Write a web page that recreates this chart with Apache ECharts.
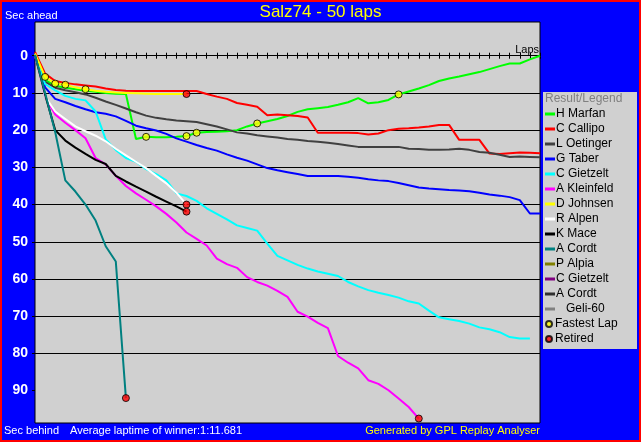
<!DOCTYPE html>
<html><head><meta charset="utf-8">
<script src="https://cdn.jsdelivr.net/npm/echarts@6/dist/echarts.min.js"></script>
<style>html,body{margin:0;padding:0;background:#0000ff;overflow:hidden}#c{width:641px;height:442px}</style>
</head><body><div id="c"></div>
<script>
// ---- data (seconds behind per lap, index = lap number) ----
const hMarfan   = [-0.5, 6.5, 8.1, 8.6, 9.0, 9.4, 9.7, 10.0, 10.2, 10.3, 22.4, 21.8, 21.9, 21.9, 21.8, 21.6, 20.7, 20.5, 20.4, 20.3, 20.0, 19.0, 18.2, 17.6, 17.0, 16.2, 15.1, 14.4, 14.1, 13.8, 13.2, 12.5, 11.4, 12.8, 12.5, 11.9, 10.4, 9.6, 8.8, 7.9, 6.8, 6.1, 5.6, 5.0, 4.4, 3.6, 2.8, 2.1, 2.1, 1.0, 0];
const cCallipo  = [-1.0, 4.8, 6.8, 7.3, 7.7, 8.0, 8.3, 8.8, 9.2, 9.4, 9.5, 9.5, 9.5, 9.5, 9.5, 9.5, 9.5, 10.3, 11.0, 11.6, 12.7, 13.2, 13.7, 16.0, 15.8, 16.0, 16.2, 16.6, 20.7, 20.7, 20.7, 20.7, 20.8, 21.2, 20.9, 20.0, 19.6, 19.5, 19.3, 19.0, 18.6, 18.6, 22.6, 22.6, 22.6, 26.3, 26.4, 26.2, 26.0, 26.1, 26.2];
const lOetinger = [-0.3, 7.0, 8.6, 9.3, 9.8, 10.4, 11.3, 12.3, 13.2, 14.2, 15.2, 16.1, 16.7, 17.1, 17.4, 17.6, 17.8, 18.4, 19.0, 19.8, 20.6, 20.9, 21.4, 21.7, 22.0, 22.4, 22.6, 22.9, 23.1, 23.4, 23.7, 24.1, 24.5, 24.5, 24.5, 24.5, 24.5, 25.0, 25.1, 25.3, 25.3, 25.2, 25.0, 25.3, 25.9, 26.1, 26.6, 27.2, 27.1, 27.2, 27.3];
const gTaber    = [-0.3, 8.5, 11.6, 12.5, 13.5, 14.4, 15.2, 15.6, 16.3, 17.5, 18.8, 19.5, 20.1, 21.0, 22.2, 23.1, 24.0, 24.8, 25.5, 26.5, 27.4, 28.2, 29.2, 30.2, 30.8, 31.3, 31.8, 32.3, 32.3, 32.3, 32.3, 32.5, 32.8, 33.2, 33.5, 33.7, 34.2, 34.8, 35.4, 35.7, 35.9, 36.1, 36.2, 36.4, 36.8, 37.3, 37.6, 38.0, 38.8, 42.4, 42.4];
const cGietzelt = [-0.2, 7.6, 9.3, 10.8, 11.6, 12.0, 15.0, 22.5, 25.3, 27.5, 28.5, 30.5, 31.8, 33.5, 37.0, 37.7, 39.0, 41.0, 42.5, 44.0, 45.6, 46.3, 47.0, 50.5, 53.8, 55.0, 56.2, 57.2, 58.0, 58.6, 59.2, 60.8, 62.0, 63.0, 63.7, 64.3, 65.0, 66.0, 66.6, 68.5, 70.3, 70.8, 71.3, 72.0, 73.0, 73.5, 74.3, 75.6, 76.0, 76.0];
const aKleinfeld= [-0.2, 11.0, 15.8, 18.0, 20.0, 22.2, 27.5, 29.2, 32.3, 35.0, 37.0, 38.7, 40.5, 42.5, 44.8, 47.5, 49.2, 51.0, 54.5, 56.0, 57.0, 59.5, 60.8, 61.8, 63.2, 64.8, 68.8, 70.1, 71.8, 73.2, 80.7, 82.5, 84.0, 87.2, 88.2, 89.9, 92.1, 94.4, 97.5];
const dJohnsen  = [-0.6, 5.7, 7.5, 7.8, 8.5, 9.0, 9.4, 9.7, 9.9, 10.0, 10.1, 10.2, 10.3, 10.3, 10.3, 10.3];
const rAlpen    = [-0.2, 11.0, 15.0, 17.0, 19.0, 20.3, 21.5, 23.0, 25.0, 26.8, 28.5, 30.2, 32.3, 34.3, 36.8, 40.0];
const kMace     = [-0.2, 10.5, 20.0, 22.8, 24.7, 26.4, 28.0, 29.1, 32.3, 33.8, 35.2, 36.5, 37.9, 39.2, 40.5, 41.9];
const aCordt    = [-0.2, 10.0, 20.5, 33.5, 36.5, 40.0, 44.3, 51.2, 55.3, 92.0];
const pAlpia    = [];
const cGietzelt2= [];
const aCordt2   = [];
const geli60    = [];

const fastestLapLaps = [1, 2, 3, 5, 11, 15, 16, 22, 36];
const fastestLapSecs = [5.7, 7.5, 7.8, 9.0, 21.8, 21.6, 20.7, 18.2, 10.4];
const retiredLaps = [9, 15, 15, 15, 38];
const retiredSecs = [92.0, 10.3, 40.0, 41.9, 97.5];

const yTicks = [0, 10, 20, 30, 40, 50, 60, 70, 80, 90];

// ---- styling ----
const FONT = '"Liberation Sans", Arial, sans-serif';
const drivers = [
  ['H Marfan', '#00ff00', hMarfan],
  ['C Callipo', '#ff0000', cCallipo],
  ['L Oetinger', '#404040', lOetinger],
  ['G Taber', '#0000ff', gTaber],
  ['C Gietzelt', '#00ffff', cGietzelt],
  ['A Kleinfeld', '#ff00ff', aKleinfeld],
  ['D Johnsen', '#ffff00', dJohnsen],
  ['R Alpen', '#ffffff', rAlpen],
  ['K Mace', '#000000', kMace],
  ['A Cordt', '#008080', aCordt],
  ['P Alpia', '#808000', pAlpia],
  ['C Gietzelt ', '#800080', cGietzelt2],
  ['A Cordt ', '#303030', aCordt2],
  ['   Geli-60', '#808080', geli60]
];

const series = drivers.map(([name, color, arr]) => ({
  type: 'line', name, color,
  data: arr.map((v, i) => [i, v]),
  showSymbol: false, symbol: 'none',
  lineStyle: { color, width: 2 },
  itemStyle: { color },
  emphasis: { disabled: true }, silent: true
}));
series.push({
  type: 'scatter', name: 'Fastest Lap', z: 5,
  data: fastestLapLaps.map((l, i) => [l, fastestLapSecs[i]]),
  symbol: 'circle', symbolSize: 7,
  itemStyle: { color: '#ffff00', borderColor: '#000', borderWidth: 1 }, silent: true
});
series.push({
  type: 'scatter', name: 'Retired', z: 5,
  data: retiredLaps.map((l, i) => [l, retiredSecs[i]]),
  symbol: 'circle', symbolSize: 7,
  itemStyle: { color: '#ff0000', borderColor: '#000', borderWidth: 1 }, silent: true
});

const txt = (text, pos, color, size) => Object.assign({
  text, padding: 0,
  textStyle: { color, fontSize: size, fontWeight: 'normal', fontFamily: FONT }
}, pos);

const option = {
  animation: false,
  backgroundColor: '#0000ff',
  textStyle: { fontFamily: FONT },
  title: [
    txt('Salz74 - 50 laps', { left: 'center', top: 4 }, '#ffff00', 17),
    txt('Sec ahead', { left: 5, top: 10 }, '#ffffff', 11),
    txt('Sec behind', { left: 4, top: 425 }, '#ffffff', 11),
    txt('Average laptime of winner:1:11.681', { left: 70, top: 425 }, '#ffffff', 11),
    txt('Generated by GPL Replay Analyser', { right: 101, top: 425 }, '#ffff00', 11),
    txt('Result/Legend', { left: 545, top: 93 }, '#808080', 12)
  ],
  graphic: [
    { type: 'rect', z: 0, silent: true, shape: { x: 543, y: 92, width: 94, height: 257 }, style: { fill: '#d0d0d0' } },
    { type: 'rect', z: 100, silent: true, shape: { x: 0, y: 0, width: 641, height: 442 }, style: { fill: null, stroke: '#ff0000', lineWidth: 4 } }
  ],
  legend: [
    {
      data: drivers.map(d => d[0]), orient: 'vertical', left: 545, top: 108, padding: 0,
      icon: 'rect', itemWidth: 10, itemHeight: 3, itemGap: 3, selectedMode: false,
      textStyle: { fontSize: 12, color: '#000', fontFamily: FONT, lineHeight: 12, padding: [0, 0, 0, -4] }
    },
    {
      data: ['Fastest Lap', 'Retired'], orient: 'vertical', left: 545, top: 318, padding: 0,
      icon: 'circle', itemWidth: 10, itemHeight: 6, itemGap: 3, selectedMode: false,
      textStyle: { fontSize: 12, color: '#000', fontFamily: FONT, lineHeight: 12, padding: [0, 0, 0, -4] }
    }
  ],
  grid: {
    left: 35, right: 101, top: 22, bottom: 19, show: true,
    backgroundColor: '#d0d0d0', borderColor: '#000', borderWidth: 1
  },
  xAxis: [
    {
      type: 'value', min: 0, max: 50, interval: 1, position: 'bottom',
      axisLine: { onZero: true, onZeroAxisIndex: 0, lineStyle: { color: '#000', width: 1 } },
      axisTick: { show: true, length: 3, lineStyle: { color: '#000', width: 1 } },
      axisLabel: { show: false }, splitLine: { show: false },
      name: 'Laps', nameLocation: 'end', nameGap: -1,
      nameTextStyle: { color: '#000', fontSize: 11, fontFamily: FONT, align: 'right', verticalAlign: 'bottom' }
    },
    {
      type: 'value', min: 0, max: 50, interval: 1, position: 'top',
      axisLine: { onZero: true, onZeroAxisIndex: 0, lineStyle: { color: '#000', width: 1 } },
      axisTick: { show: true, length: 3, lineStyle: { color: '#000', width: 1 } },
      axisLabel: { show: false }, splitLine: { show: false }
    }
  ],
  yAxis: {
    type: 'value', inverse: true, min: -9.06, max: 98.7,
    axisLine: { show: false },
    axisTick: { show: true, length: 3, customValues: yTicks, lineStyle: { color: '#000' } },
    axisLabel: { customValues: yTicks, color: '#ffffff', fontWeight: 'bold', fontSize: 14, margin: 7, fontFamily: FONT },
    splitLine: { show: true, showMinLine: false, showMaxLine: false, lineStyle: { color: '#000', width: 1 } }
  },
  series
};

const chart = echarts.init(document.getElementById('c'), null, { renderer: 'canvas' });
chart.setOption(option);
</script>
</body></html>
